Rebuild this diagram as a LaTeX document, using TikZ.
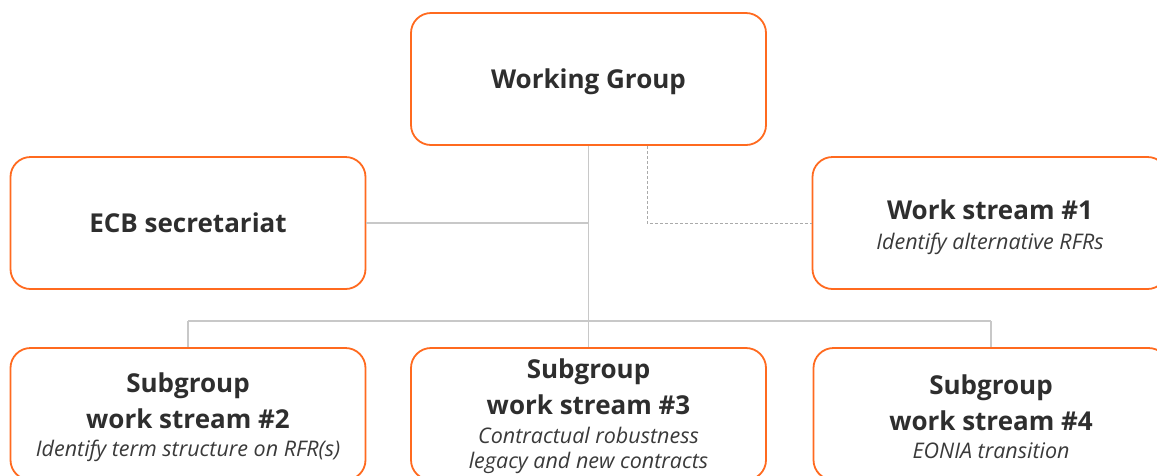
\documentclass[tikz,border=0pt]{standalone}
\usepackage{fontspec}
\setmainfont{Open Sans}
\definecolor{ingorange}{HTML}{FF6A1F}
\definecolor{linkgray}{HTML}{C8C8C8}
\definecolor{textdark}{HTML}{2E2E2E}
\definecolor{textsoft}{HTML}{3A3A3A}
\newcommand{\headfont}{\fontsize{26}{36}\selectfont\bfseries}
\newcommand{\notefont}{\fontsize{21.5}{25}\selectfont\mdseries\itshape\color{textsoft}}
% tall strut on the first line nudges the text block slightly downwards
\newcommand{\topstrut}[1]{\rule{0pt}{#1}}
\begin{document}
\begin{tikzpicture}[x=1pt,y=-1pt,
  unit/.style={draw=ingorange, line width=1.8pt, rounded corners=20pt,
    fill=white, align=center, text=textdark, inner sep=0pt,
    minimum height=132pt, minimum width=355pt, font=\headfont},
  oneline/.style={unit, text depth=0pt},
  link/.style={draw=linkgray, line width=1.3pt},
  dottedlink/.style={draw=linkgray!85!black, line width=1pt, dash pattern=on 3pt off 2pt}]
\useasboundingbox (0,0) rectangle (1157,475);
\begin{scope}
\clip (0,0) rectangle (1157,475);
% junction points of the connectors
\coordinate (trunk) at (588.5,223);
\coordinate (barL) at (188,321);
\coordinate (barR) at (991,321);
\coordinate (dashbend) at (647,223);
% boxes
\node[oneline] (wg) at (588.5,79) {Working Group};
\node[oneline] (ecb) at (188,223) {ECB secretariat};
\node[unit] (ws1) at (990,223) {\topstrut{28pt}Work stream \#1\\[-6pt]{\notefont Identify alternative RFRs}};
\node[unit] (sg2) at (188,414) {\topstrut{26pt}Subgroup\\work stream \#2\\[-8pt]{\notefont Identify term structure on RFR(s)}};
\node[unit] (sg3) at (588.5,414) {\topstrut{25pt}Subgroup\\work stream \#3\\[-7pt]{\notefont Contractual robustness}\\[-11pt]{\notefont legacy and new contracts}};
\node[unit] (sg4) at (991,414) {\topstrut{26pt}Subgroup\\work stream \#4\\[-8pt]{\notefont EONIA transition}};
% links
\draw[link] (wg.south) -- (sg3.north);
\draw[link] (ecb.east) -- (trunk);
\draw[link] (barL) -- (barR);
\draw[link] (barL) -- (sg2.north);
\draw[link] (barR) -- (sg4.north);
\draw[dottedlink] (wg.south -| dashbend) -- (dashbend) -- (ws1.west);
\end{scope}
\end{tikzpicture}
\end{document}
